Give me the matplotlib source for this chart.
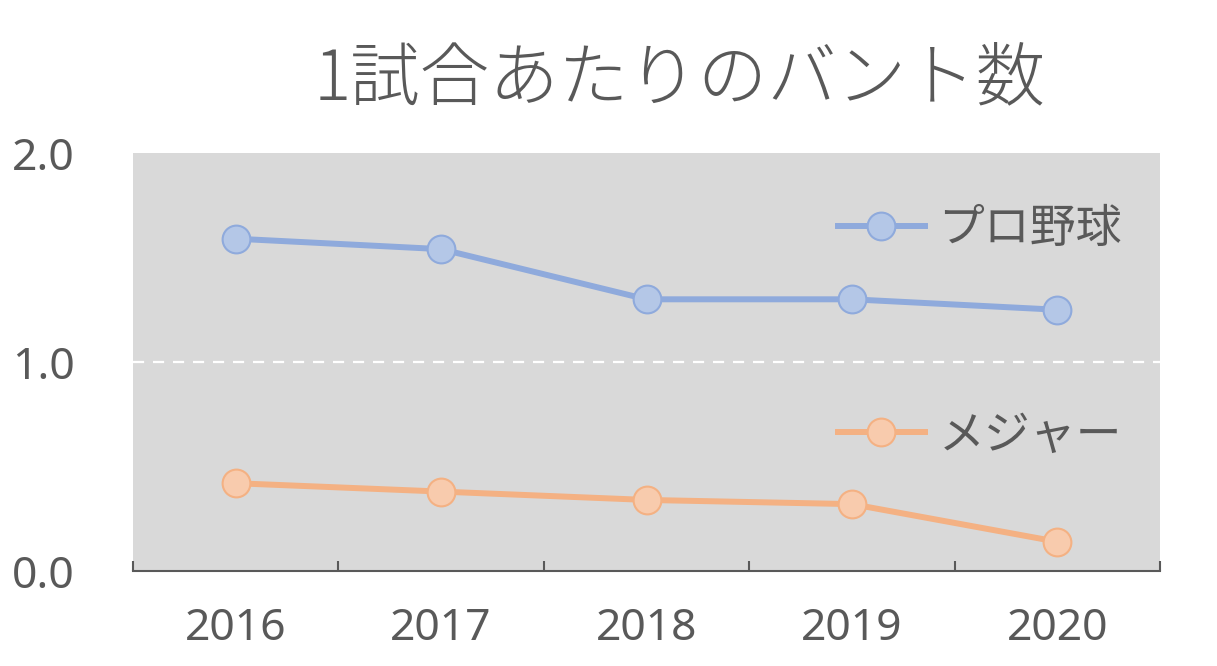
import numpy as np
import matplotlib.pyplot as plt

plt.rcParams['font.family'] = ['Noto Sans CJK JP', 'DejaVu Sans']

# data
years = ['2016', '2017', '2018', '2019', '2020']
npb = [1.59, 1.54, 1.30, 1.30, 1.25]      # プロ野球
mlb = [0.42, 0.38, 0.34, 0.32, 0.14]      # メジャー
title = '1試合あたりのバント数'

txt = '#595959'
x = np.arange(len(years))

fig = plt.figure(figsize=(12.17, 6.66), dpi=100)
ax = fig.add_axes([133/1217, 95/666, (1160-133)/1217, (571-153)/666])
ax.set_facecolor('#D9D9D9')

ax.plot(x, npb, color='#8FAADC', linewidth=4.3, marker='o', markersize=20,
        markerfacecolor='#B4C7E7', markeredgecolor='#8FAADC', markeredgewidth=1.5,
        label='プロ野球', zorder=3)
ax.plot(x, mlb, color='#F4B183', linewidth=4.3, marker='o', markersize=20,
        markerfacecolor='#F8CBAD', markeredgecolor='#F4B183', markeredgewidth=1.5,
        label='メジャー', zorder=3)

ax.axhline(1.0, color='white', linestyle=(0, (5, 4)), linewidth=1.6, zorder=1)

ax.set_xlim(-0.5, len(years) - 0.5)
ax.set_ylim(0, 2)
ax.set_yticks([0, 1, 2])
ax.set_yticklabels(['0.0', '1.0', '2.0'])
ax.set_xticks(x)
ax.set_xticklabels(years)
ax.set_xticks(np.arange(-0.5, len(years)), minor=True)

ax.tick_params(axis='y', length=0, pad=42, labelcolor=txt)
ax.tick_params(axis='x', which='major', length=0, pad=26, labelcolor=txt)
ax.tick_params(axis='x', which='minor', direction='in', length=7, width=1.5, color='#595959')
for lab in ax.get_xticklabels() + ax.get_yticklabels():
    lab.set_family(['Noto Sans', 'DejaVu Sans'])
    lab.set_fontsize(32)

for s in ['top', 'right', 'left']:
    ax.spines[s].set_visible(False)
ax.spines['bottom'].set_color('#595959')
ax.spines['bottom'].set_linewidth(1.5)

leg = ax.legend(loc='upper right', bbox_to_anchor=(0.963, 0.877), frameon=False,
                fontsize=33, labelspacing=3.45, handlelength=1.9, handletextpad=0.3,
                borderpad=0, borderaxespad=0, labelcolor=txt)

fig.text(680/1217, 1 - 80/666, title, ha='center', va='center', fontsize=50,
         color=txt, fontweight='light')

fig.savefig('out.png', dpi=100)
